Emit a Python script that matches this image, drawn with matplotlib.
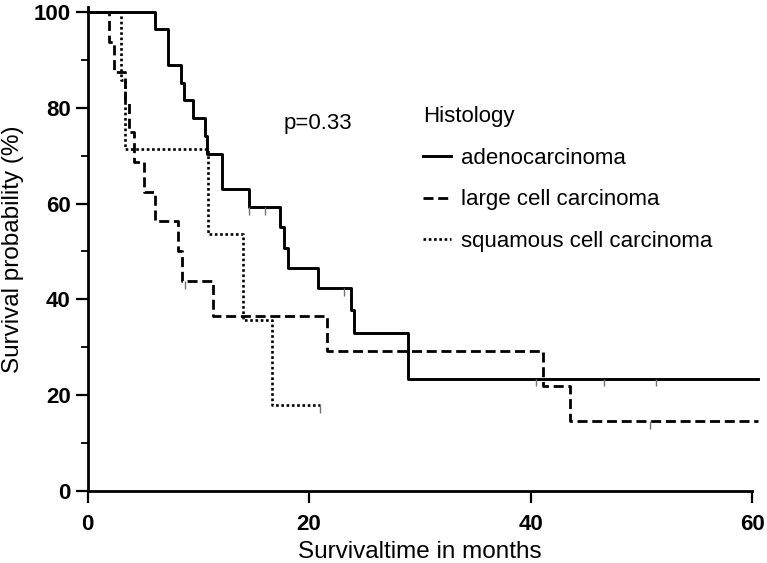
import matplotlib
matplotlib.use("Agg")
import matplotlib.pyplot as plt
from matplotlib.lines import Line2D

plt.rcParams["font.family"] = ["Liberation Sans", "DejaVu Sans"]

# Kaplan-Meier steps (months, survival %)
adeno_t = [0, 6.1, 7.3, 8.4, 8.7, 9.5, 10.6, 10.8, 12.1, 14.6, 17.4, 17.7, 18.1,
           20.8, 23.8, 24.1, 28.9, 60.5]
adeno_s = [100, 96.3, 88.9, 85.2, 81.5, 77.8, 74.1, 70.4, 63.0, 59.3, 55.0, 50.8,
           46.6, 42.4, 37.7, 33.0, 23.5, 23.5]
adeno_cens_t = [14.6, 16.0, 23.2, 40.5, 46.6, 51.3]
adeno_cens_s = [59.3, 59.3, 42.4, 23.5, 23.5, 23.5]

large_t = [0, 1.9, 2.4, 3.4, 3.75, 4.2, 5.1, 6.1, 8.2, 8.55, 11.3, 21.6, 41.1,
           43.6, 60.5]
large_s = [100, 93.75, 87.5, 81.25, 75, 68.75, 62.5, 56.25, 50, 43.75, 36.46,
           29.17, 21.88, 14.58, 14.58]
large_cens_t = [8.8, 50.8]
large_cens_s = [43.75, 14.58]

squam_t = [0, 3.0, 3.35, 10.9, 14.0, 16.7, 21.0]
squam_s = [100, 85.7, 71.4, 53.6, 35.7, 17.9, 17.9]
squam_cens_t = [21.0]
squam_cens_s = [17.9]

labels = ["adenocarcinoma", "large cell carcinoma", "squamous cell carcinoma"]
xticks = [0, 20, 40, 60]
yticks = [0, 20, 40, 60, 80, 100]
yminor = [10, 30, 50, 70, 90]

fig = plt.figure(figsize=(7.67, 5.63), dpi=100)
ax = fig.add_axes([0.1141, 0.1274, 0.8664, 0.8604])

solid = dict(color="black", lw=2.1, linestyle="-")
dashed = dict(color="black", lw=2.0, linestyle=(0, (3.6, 1.7)))
dotted = dict(color="black", lw=1.9, linestyle=(0, (1, 1.0)))

ax.step(adeno_t, adeno_s, where="post", clip_on=False, **solid)
ax.step(large_t, large_s, where="post", clip_on=False, **dashed)
ax.step(squam_t, squam_s, where="post", clip_on=False, **dotted)

# censor marks hang below the curve
tick_len = 1.6
for ct, cs in [(adeno_cens_t, adeno_cens_s), (large_cens_t, large_cens_s),
               (squam_cens_t, squam_cens_s)]:
    ax.vlines(ct, [s - tick_len for s in cs], cs, colors="0.45", lw=1.0)

ax.set_xlim(0, 60)
ax.set_ylim(0, 101)
ax.set_xticks(xticks)
ax.set_yticks(yticks)
ax.set_yticks(yminor, minor=True)
for sp in ["top", "right"]:
    ax.spines[sp].set_visible(False)
for sp in ["left", "bottom"]:
    ax.spines[sp].set_linewidth(2.0)
ax.tick_params(axis="x", which="major", length=8.5, width=1.6, pad=8,
               labelsize=16)
ax.tick_params(axis="y", which="major", length=8.5, width=1.6, pad=3.5,
               labelsize=16)
ax.tick_params(axis="y", which="minor", length=5, width=1.3)
for lab in ax.get_xticklabels() + ax.get_yticklabels():
    lab.set_fontweight("bold")

ax.set_xlabel("Survivaltime in months", fontsize=17.5, labelpad=4)
ax.set_ylabel("Survival probability (%)", fontsize=17.5, labelpad=7)

ax.text(0.2955, 0.7587, "p=0.33", transform=ax.transAxes, fontsize=16,
        va="center", ha="left")

handles = [Line2D([], [], **solid), Line2D([], [], **dashed),
           Line2D([], [], **dotted)]
leg = ax.legend(handles, labels, title="Histology", loc="upper left",
                bbox_to_anchor=(0.5053, 0.7954), frameon=False, fontsize=16,
                title_fontsize=16, alignment="left", borderpad=0,
                borderaxespad=0, handlelength=1.26, handletextpad=0.45,
                labelspacing=0.93)

fig.savefig("out.png", dpi=100)
